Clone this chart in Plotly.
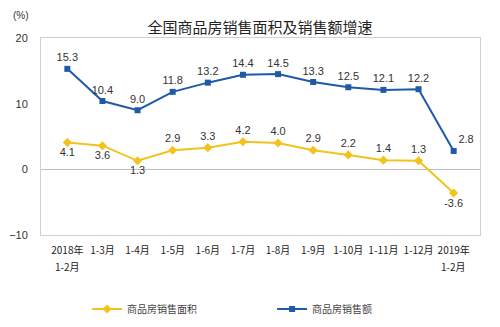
import plotly.graph_objects as go

categories = ["2018年<br>1-2月", "1-3月", "1-4月", "1-5月", "1-6月", "1-7月",
              "1-8月", "1-9月", "1-10月", "1-11月", "1-12月", "2019年<br>1-2月"]
area_growth = [4.1, 3.6, 1.3, 2.9, 3.3, 4.2, 4.0, 2.9, 2.2, 1.4, 1.3, -3.6]
sales_growth = [15.3, 10.4, 9.0, 11.8, 13.2, 14.4, 14.5, 13.3, 12.5, 12.1, 12.2, 2.8]
y_ticks = [-10, 0, 10, 20]

FONT = "Liberation Sans, Arial, Noto Sans CJK SC, sans-serif"
CJK = "Noto Sans CJK SC"
YELLOW = "#f2c31c"
BLUE = "#1f5aa6"

area_pos = ["bottom center"] * 3 + ["top center"] * 8 + ["bottom center"]
sales_pos = ["top center"] * 11 + ["top right"]

# first line of each category label goes on the axis, the second line below it
first_lines = [c.split("<br>")[0] for c in categories]
second_lines = [(c, c.split("<br>")[1]) for c in categories if "<br>" in c]

fig = go.Figure()
fig.add_trace(go.Scatter(
    x=categories, y=area_growth, name="商品房销售面积",
    mode="lines+markers+text",
    line=dict(color=YELLOW, width=2),
    marker=dict(symbol="diamond", size=7, color=YELLOW),
    text=[f"{v:.1f}" for v in area_growth], textposition=area_pos,
    textfont=dict(size=11, color="#333333", family=FONT),
    cliponaxis=False,
))
fig.add_trace(go.Scatter(
    x=categories, y=sales_growth, name="商品房销售额",
    mode="lines+markers+text",
    line=dict(color=BLUE, width=2),
    marker=dict(symbol="square", size=6, color=BLUE),
    text=[f"{v:.1f}" for v in sales_growth], textposition=sales_pos,
    textfont=dict(size=11, color="#333333", family=FONT),
    cliponaxis=False,
))

annotations = [dict(text="(%)", xref="paper", yref="paper", x=-0.046, y=1.112,
                    xanchor="center", yanchor="middle", showarrow=False,
                    font=dict(size=10, color="#333333"))]
for cat, line2 in second_lines:
    annotations.append(dict(text=line2, xref="x", yref="paper", x=cat, y=-0.16,
                            xanchor="center", yanchor="middle", showarrow=False,
                            font=dict(size=10, color="#222222", family=CJK)))

fig.update_layout(
    width=500, height=327,
    margin=dict(l=41, r=20, t=38, b=92, autoexpand=False),
    paper_bgcolor="white", plot_bgcolor="white",
    font=dict(family=FONT, size=10, color="#333333"),
    title=dict(text="全国商品房销售面积及销售额增速", x=0.52, xanchor="center",
               yref="container", y=0.915, yanchor="middle",
               font=dict(size=15, color="#222222", family=CJK)),
    showlegend=True,
    legend=dict(orientation="h", x=0.105, xanchor="left",
                yref="container", y=0.055, yanchor="middle",
                font=dict(size=10, color="#444444", family=CJK),
                itemwidth=30, entrywidth=140, bgcolor="rgba(0,0,0,0)"),
    annotations=annotations,
)
fig.update_xaxes(
    type="category", showgrid=False, showline=True, mirror=True,
    linecolor="#d0d0d0", linewidth=1,
    tickmode="array", tickvals=categories, ticktext=first_lines,
    tickfont=dict(size=10, color="#222222", family=CJK),
    ticks="", tickangle=0, ticklabelstandoff=6,
)
fig.update_yaxes(
    range=[-10, 20], tickvals=y_ticks, showgrid=False,
    zeroline=True, zerolinecolor="#bfbfbf", zerolinewidth=1,
    showline=True, mirror=True, linecolor="#d0d0d0", linewidth=1,
    tickfont=dict(size=11, color="#333333"), ticks="", ticklabelstandoff=10,
)

fig.write_html("out.html")
